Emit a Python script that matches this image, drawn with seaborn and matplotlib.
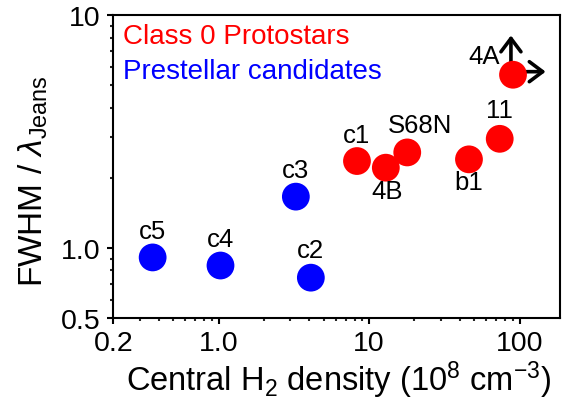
import numpy as np
import pandas as pd
import matplotlib
matplotlib.use("Agg")
import matplotlib.pyplot as plt
from matplotlib.ticker import FixedLocator, FixedFormatter, LogLocator, NullFormatter
from matplotlib.transforms import offset_copy
import seaborn as sns

# valores
nomes = ["c5", "c4", "c3", "c2", "c1", "4B", "S68N", "b1", "11", "4A"]
densidade = [0.365, 1.03, 3.26, 4.10, 8.3, 12.9, 17.9, 46.0, 73.6, 90.2]
fwhm_jeans = [0.91, 0.84, 1.66, 0.745, 2.36, 2.21, 2.57, 2.40, 2.94, 5.54]
tipo = ["pre"] * 4 + ["c0"] * 6
# deslocamento dos rotulos (pontos)
rot_dx = [0, 0, 0, 0, 0, 1, 9, 0, 0, -21]
rot_dy = [19, 19, 19, 20, 19, -16.5, 20, -16, 21, 13.5]

xticks = [0.2, 1.0, 10, 100]
xticklabels = ["0.2", "1.0", "10", "100"]
yticks = [0.5, 1.0, 10]
yticklabels = ["0.5", "1.0", "10"]

cores = {"c0": "#ff0000", "pre": "#0000ff"}
legenda = [("Class 0 Protostars", "#ff0000"), ("Prestellar candidates", "#0000ff")]

df = pd.DataFrame({"nome": nomes, "dens": densidade, "razao": fwhm_jeans, "tipo": tipo})

sns.set_theme(style="ticks")
plt.rcParams["font.family"] = ["Liberation Sans", "DejaVu Sans"]
plt.rcParams["mathtext.fontset"] = "custom"
plt.rcParams["mathtext.rm"] = "Liberation Sans"
plt.rcParams["mathtext.it"] = "Liberation Sans:italic"
plt.rcParams["mathtext.default"] = "regular"
plt.rcParams["text.color"] = "black"
plt.rcParams["axes.labelcolor"] = "black"

fig = plt.figure(figsize=(5.64, 4.02), dpi=100)
ax = fig.add_axes([113.3 / 564, 83 / 402, 446.7 / 564, 303 / 402])

# setas do 4A (limite inferior)
x4a, y4a = densidade[-1], fwhm_jeans[-1]
seta = dict(arrowstyle="->,head_length=0.4,head_width=0.3", lw=2.6, color="black",
            mutation_scale=24, shrinkA=0, shrinkB=0)
ax.annotate("", xy=(x4a, y4a), xycoords=offset_copy(ax.transData, fig=fig, x=-1.5, y=28.3, units="points"),
            xytext=(x4a, y4a), textcoords=offset_copy(ax.transData, fig=fig, x=-1.5, y=0, units="points"),
            arrowprops=seta, zorder=1)
ax.annotate("", xy=(x4a, y4a), xycoords=offset_copy(ax.transData, fig=fig, x=23.5, y=2.2, units="points"),
            xytext=(x4a, y4a), textcoords=offset_copy(ax.transData, fig=fig, x=0, y=2.2, units="points"),
            arrowprops=seta, zorder=1)

sns.scatterplot(data=df, x="dens", y="razao", hue="tipo", palette=cores, s=400,
                linewidth=0, legend=False, ax=ax, zorder=3)

for n, xv, yv, dx, dy in zip(nomes, densidade, fwhm_jeans, rot_dx, rot_dy):
    ax.annotate(n, (xv, yv), xytext=(dx, dy), textcoords="offset points",
                ha="center", va="center", fontsize=18.5, color="black")

for i, (txt, c) in enumerate(legenda):
    ax.text(0.022, 0.932 - i * 0.116, txt, color=c, fontsize=20,
            transform=ax.transAxes, ha="left", va="center")

ax.set_xscale("log")
ax.set_yscale("log")
ax.set_xlim(0.2, 185)
ax.set_ylim(0.5, 10)

ax.xaxis.set_major_locator(FixedLocator(xticks))
ax.xaxis.set_major_formatter(FixedFormatter(xticklabels))
ax.yaxis.set_major_locator(FixedLocator(yticks))
ax.yaxis.set_major_formatter(FixedFormatter(yticklabels))
ax.xaxis.set_minor_locator(LogLocator(base=10, subs=np.arange(2, 10)))
ax.yaxis.set_minor_locator(LogLocator(base=10, subs=np.arange(2, 10)))
ax.xaxis.set_minor_formatter(NullFormatter())
ax.yaxis.set_minor_formatter(NullFormatter())

ax.tick_params(which="major", direction="out", length=4, width=1.5, labelsize=20.5, pad=5, colors="black")
ax.tick_params(which="minor", direction="out", length=2.5, width=1.5)
for s in ax.spines.values():
    s.set_linewidth(1.5)
    s.set_color("black")

ax.set_xlabel(r"Central H$_2$ density (10$^8$ cm$^{-3}$)", fontsize=23.5)
ax.set_ylabel(r"FWHM / $\mathit{\lambda}_{\rm Jeans}$", fontsize=24)
ax.xaxis.set_label_coords(0.505, -0.135)
ax.yaxis.set_label_coords(-0.142, 0.455)

fig.savefig("out.png", dpi=100)
